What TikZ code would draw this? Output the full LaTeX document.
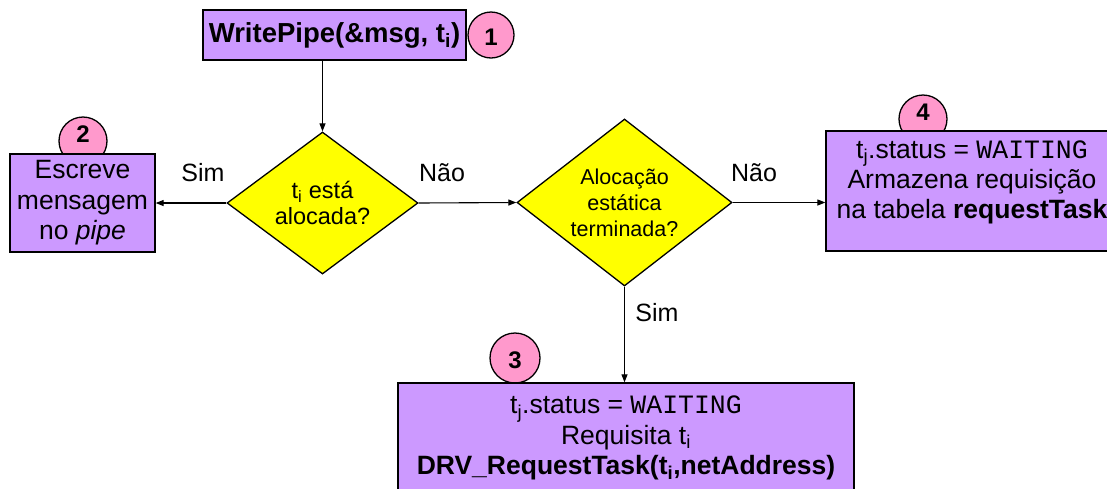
\documentclass[tikz,border=0pt]{standalone}
\usepackage{fontspec}
\setmainfont{Liberation Sans}
\setsansfont{Liberation Sans}
\setmonofont{Liberation Mono}
\usetikzlibrary{shapes.geometric,arrows.meta}
\definecolor{boxfill}{HTML}{CC99FF}
\definecolor{numfill}{HTML}{FF99CC}
\definecolor{decfill}{HTML}{FFFF00}
\newcommand\monow[1]{{\ttfamily\fontsize{26.5}{30}\selectfont #1}}
\tikzset{
 procbox/.style={draw=black, line width=1.3pt, fill=boxfill, rectangle, inner sep=0pt, align=center, font=\fontsize{26.5}{30.5}\selectfont},
 boxtext/.style={inner sep=0pt, align=center, font=\fontsize{26.5}{30}\selectfont},
 decision/.style={draw=black, line width=1.3pt, fill=decfill, diamond, inner sep=0pt, align=center, font=\fontsize{21.5}{26}\selectfont},
 numcirc/.style={draw=black, line width=1.3pt, fill=numfill, circle, minimum size=48pt, inner sep=0pt},
 numtext/.style={inner sep=0pt, font=\bfseries\fontsize{24}{28}\selectfont},
 flow/.style={line width=1.1pt, -{Triangle[length=8pt,width=6pt]}},
 lbl/.style={inner sep=0pt, font=\fontsize{25}{28}\selectfont}
}
\begin{document}
\begin{tikzpicture}[x=1pt,y=-1pt]
\useasboundingbox (0,0) rectangle (1107,488);
\clip (0,0) rectangle (1107,488);
% step 1
\node[procbox, minimum width=263pt, minimum height=50pt, font=\bfseries\fontsize{27.5}{30}\selectfont] (b1) at (334.5,35) {WritePipe(\&msg, t\textsubscript{i})};
\node[numcirc, minimum size=46pt] (c1) at (491,35) {};
\node[numtext] (n1) at (491,37) {1};
% decisions
\node[decision, minimum width=191pt, minimum height=142pt, aspect=1.35, font=\fontsize{23.5}{26}\selectfont] (d1) at (322.5,203) {t\textsubscript{i} está\\alocada?};
\node[decision, minimum width=215pt, minimum height=167pt, aspect=1.29] (d2) at (624.5,202.5) {Alocação\\estática\\terminada?};
% step 2
\node[numcirc] (c2) at (83,141) {};
\node[numtext] (n2) at (83,134) {2};
\node[procbox, minimum width=145pt, minimum height=98pt] (b2) at (82.5,203) {Escreve\\mensagem\\no \textit{pipe}};
% step 4
\node[numcirc] (c4) at (923,119) {};
\node[numtext] (n4) at (923,112) {4};
\node[procbox, minimum width=292pt, minimum height=120pt] (b4) at (972,191) {};
\node[boxtext] (t4) at (972,182) {t\textsubscript{j}.status = \monow{WAITING}\\Armazena requisição\\na tabela \textbf{requestTask}};
% step 3
\node[numcirc, minimum size=50pt] (c3) at (515,358) {};
\node[numtext] (n3) at (515,360) {3};
\node[procbox, minimum width=456pt, minimum height=110pt] (b3) at (626,438) {t\textsubscript{j}.status = \monow{WAITING}\\Requisita t\textsubscript{i}\\\textbf{DRV\_RequestTask(t\textsubscript{i},netAddress)}};
% connectors
\draw[flow] (d1.north |- b1.south) -- (d1.north);
\draw[flow] (d1.west) -- (b2.east);
\draw[flow] (d1.east) -- (d2.west);
\draw[flow] (d2.east) -- (b4.west |- d2.east);
\draw[flow] (d2.south) -- (d2.south |- b3.north);
% labels
\node[lbl] (l1) at (203,173) {Sim};
\node[lbl] (l2) at (442,173) {Não};
\node[lbl] (l3) at (754,173) {Não};
\node[lbl] (l4) at (657,313) {Sim};
\end{tikzpicture}
\end{document}
